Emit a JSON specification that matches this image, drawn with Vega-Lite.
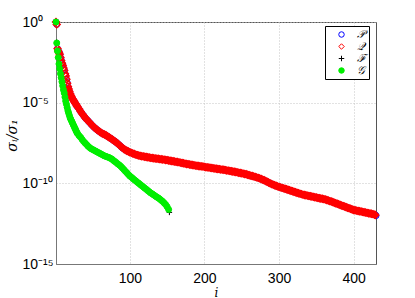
{
"$schema":"https://vega.github.io/schema/vega-lite/v6.json",
"width":320,"height":242,
"autosize":{"type":"none"},
"padding":{"left":56,"top":22,"right":39,"bottom":34},
"background":"white",
"datasets":{
"pq":[
{"i":1,"P":1,"Q":1},{"i":2,"P":0.708,"Q":0.708},{"i":3,"P":0.0224,"Q":0.0224},{"i":4,"P":0.0158,"Q":0.0158},{"i":5,"P":0.0141,"Q":0.0126},{"i":6,"P":0.0112,"Q":0.01},{"i":7,"P":0.00631,"Q":0.00631},{"i":8,"P":0.00447,"Q":0.00398},{"i":9,"P":0.00282,"Q":0.00282},{"i":10,"P":0.00224,"Q":0.002},
{"i":11,"P":0.00141,"Q":0.00141},{"i":12,"P":0.00112,"Q":0.001},{"i":13,"P":6.31e-4,"Q":6.31e-4},{"i":14,"P":5.01e-4,"Q":4.47e-4},{"i":15,"P":2.82e-4,"Q":2.82e-4},{"i":16,"P":1.78e-4,"Q":1.58e-4},{"i":17,"P":1e-4,"Q":1e-4},{"i":18,"P":7.08e-5,"Q":7.08e-5},{"i":19,"P":5.01e-5,"Q":5.01e-5},{"i":20,"P":3.55e-5,"Q":3.55e-5},
{"i":21,"P":2.82e-5,"Q":2.82e-5},{"i":22,"P":2.24e-5,"Q":2.24e-5},{"i":23,"P":1.78e-5,"Q":1.78e-5},{"i":24,"P":1.51e-5,"Q":1.51e-5},{"i":25,"P":1.26e-5,"Q":1.26e-5},{"i":26,"P":1.07e-5,"Q":1.07e-5},{"i":27,"P":8.91e-6,"Q":8.91e-6},{"i":28,"P":7.59e-6,"Q":7.59e-6},{"i":29,"P":6.31e-6,"Q":6.31e-6},{"i":30,"P":5.37e-6,"Q":5.37e-6},
{"i":32,"P":3.98e-6,"Q":3.98e-6},{"i":34,"P":2.82e-6,"Q":2.82e-6},{"i":36,"P":2.09e-6,"Q":2.09e-6},{"i":38,"P":1.58e-6,"Q":1.58e-6},{"i":40,"P":1.17e-6,"Q":1.17e-6},{"i":42,"P":9.33e-7,"Q":9.33e-7},{"i":44,"P":7.41e-7,"Q":7.41e-7},{"i":46,"P":5.89e-7,"Q":5.89e-7},{"i":48,"P":4.68e-7,"Q":4.68e-7},{"i":50,"P":3.72e-7,"Q":3.72e-7},
{"i":52,"P":3.02e-7,"Q":3.02e-7},{"i":54,"P":2.51e-7,"Q":2.51e-7},{"i":56,"P":2.09e-7,"Q":2.09e-7},{"i":58,"P":1.78e-7,"Q":1.78e-7},{"i":60,"P":1.51e-7,"Q":1.51e-7},{"i":62,"P":1.32e-7,"Q":1.32e-7},{"i":64,"P":1.17e-7,"Q":1.17e-7},{"i":66,"P":1.07e-7,"Q":1.07e-7},{"i":68,"P":9.55e-8,"Q":9.55e-8},{"i":70,"P":8.32e-8,"Q":8.32e-8},
{"i":72,"P":7.24e-8,"Q":7.24e-8},{"i":74,"P":6.31e-8,"Q":6.31e-8},{"i":76,"P":5.37e-8,"Q":5.37e-8},{"i":78,"P":4.68e-8,"Q":4.68e-8},{"i":80,"P":3.98e-8,"Q":3.98e-8},{"i":82,"P":3.39e-8,"Q":3.39e-8},{"i":84,"P":2.82e-8,"Q":2.82e-8},{"i":86,"P":2.34e-8,"Q":2.34e-8},{"i":88,"P":1.91e-8,"Q":1.91e-8},{"i":90,"P":1.58e-8,"Q":1.58e-8},
{"i":92,"P":1.35e-8,"Q":1.35e-8},{"i":94,"P":1.17e-8,"Q":1.17e-8},{"i":96,"P":1.05e-8,"Q":1.05e-8},{"i":98,"P":9.33e-9,"Q":9.33e-9},{"i":100,"P":8.51e-9,"Q":8.51e-9},{"i":102,"P":7.76e-9,"Q":7.76e-9},{"i":104,"P":7.08e-9,"Q":7.08e-9},{"i":106,"P":6.61e-9,"Q":6.61e-9},{"i":108,"P":6.03e-9,"Q":6.03e-9},{"i":110,"P":5.62e-9,"Q":5.62e-9},
{"i":112,"P":5.37e-9,"Q":5.37e-9},{"i":114,"P":5.01e-9,"Q":5.01e-9},{"i":116,"P":4.79e-9,"Q":4.79e-9},{"i":118,"P":4.68e-9,"Q":4.68e-9},{"i":120,"P":4.47e-9,"Q":4.47e-9},{"i":122,"P":4.27e-9,"Q":4.27e-9},{"i":124,"P":4.17e-9,"Q":4.17e-9},{"i":126,"P":3.98e-9,"Q":3.98e-9},{"i":128,"P":3.8e-9,"Q":3.8e-9},{"i":130,"P":3.72e-9,"Q":3.72e-9},
{"i":132,"P":3.55e-9,"Q":3.55e-9},{"i":134,"P":3.47e-9,"Q":3.47e-9},{"i":136,"P":3.39e-9,"Q":3.39e-9},{"i":138,"P":3.31e-9,"Q":3.31e-9},{"i":140,"P":3.16e-9,"Q":3.16e-9},{"i":142,"P":3.09e-9,"Q":3.09e-9},{"i":144,"P":3.02e-9,"Q":3.02e-9},{"i":146,"P":2.95e-9,"Q":2.95e-9},{"i":148,"P":2.82e-9,"Q":2.82e-9},{"i":150,"P":2.75e-9,"Q":2.75e-9},
{"i":152,"P":2.63e-9,"Q":2.63e-9},{"i":154,"P":2.51e-9,"Q":2.51e-9},{"i":156,"P":2.4e-9,"Q":2.4e-9},{"i":158,"P":2.34e-9,"Q":2.34e-9},{"i":160,"P":2.24e-9,"Q":2.24e-9},{"i":162,"P":2.14e-9,"Q":2.14e-9},{"i":164,"P":2.09e-9,"Q":2.09e-9},{"i":166,"P":2e-9,"Q":2e-9},{"i":168,"P":1.91e-9,"Q":1.91e-9},{"i":170,"P":1.82e-9,"Q":1.82e-9},
{"i":172,"P":1.74e-9,"Q":1.74e-9},{"i":174,"P":1.66e-9,"Q":1.66e-9},{"i":176,"P":1.58e-9,"Q":1.58e-9},{"i":178,"P":1.55e-9,"Q":1.55e-9},{"i":180,"P":1.48e-9,"Q":1.48e-9},{"i":182,"P":1.41e-9,"Q":1.41e-9},{"i":184,"P":1.38e-9,"Q":1.38e-9},{"i":186,"P":1.32e-9,"Q":1.32e-9},{"i":188,"P":1.26e-9,"Q":1.26e-9},{"i":190,"P":1.23e-9,"Q":1.23e-9},
{"i":192,"P":1.2e-9,"Q":1.2e-9},{"i":194,"P":1.15e-9,"Q":1.15e-9},{"i":196,"P":1.12e-9,"Q":1.12e-9},{"i":198,"P":1.1e-9,"Q":1.1e-9},{"i":200,"P":1.05e-9,"Q":1.05e-9},{"i":202,"P":1e-9,"Q":1e-9},{"i":204,"P":9.77e-10,"Q":9.77e-10},{"i":206,"P":9.55e-10,"Q":9.55e-10},{"i":208,"P":9.12e-10,"Q":9.12e-10},{"i":210,"P":8.91e-10,"Q":8.91e-10},
{"i":212,"P":8.51e-10,"Q":8.51e-10},{"i":214,"P":8.32e-10,"Q":8.32e-10},{"i":216,"P":7.94e-10,"Q":7.94e-10},{"i":218,"P":7.76e-10,"Q":7.76e-10},{"i":220,"P":7.59e-10,"Q":7.59e-10},{"i":222,"P":7.24e-10,"Q":7.24e-10},{"i":224,"P":7.08e-10,"Q":7.08e-10},{"i":226,"P":6.92e-10,"Q":6.92e-10},{"i":228,"P":6.61e-10,"Q":6.61e-10},{"i":230,"P":6.31e-10,"Q":6.31e-10},
{"i":232,"P":6.17e-10,"Q":6.17e-10},{"i":234,"P":5.89e-10,"Q":5.89e-10},{"i":236,"P":5.62e-10,"Q":5.62e-10},{"i":238,"P":5.37e-10,"Q":5.37e-10},{"i":240,"P":5.25e-10,"Q":5.25e-10},{"i":242,"P":5.01e-10,"Q":5.01e-10},{"i":244,"P":4.79e-10,"Q":4.79e-10},{"i":246,"P":4.57e-10,"Q":4.57e-10},{"i":248,"P":4.37e-10,"Q":4.37e-10},{"i":250,"P":4.17e-10,"Q":4.17e-10},
{"i":252,"P":3.98e-10,"Q":3.98e-10},{"i":254,"P":3.8e-10,"Q":3.8e-10},{"i":256,"P":3.63e-10,"Q":3.63e-10},{"i":258,"P":3.39e-10,"Q":3.39e-10},{"i":260,"P":3.16e-10,"Q":3.16e-10},{"i":262,"P":3.02e-10,"Q":3.02e-10},{"i":264,"P":2.82e-10,"Q":2.82e-10},{"i":266,"P":2.69e-10,"Q":2.69e-10},{"i":268,"P":2.51e-10,"Q":2.51e-10},{"i":270,"P":2.34e-10,"Q":2.34e-10},
{"i":272,"P":2.19e-10,"Q":2.19e-10},{"i":274,"P":2.04e-10,"Q":2.04e-10},{"i":276,"P":1.86e-10,"Q":1.86e-10},{"i":278,"P":1.7e-10,"Q":1.7e-10},{"i":280,"P":1.55e-10,"Q":1.55e-10},{"i":282,"P":1.38e-10,"Q":1.38e-10},{"i":284,"P":1.26e-10,"Q":1.26e-10},{"i":286,"P":1.12e-10,"Q":1.12e-10},{"i":288,"P":1e-10,"Q":1e-10},{"i":290,"P":9.12e-11,"Q":9.12e-11},
{"i":292,"P":8.32e-11,"Q":8.32e-11},{"i":294,"P":7.59e-11,"Q":7.59e-11},{"i":296,"P":7.08e-11,"Q":7.08e-11},{"i":298,"P":6.46e-11,"Q":6.46e-11},{"i":300,"P":6.03e-11,"Q":6.03e-11},{"i":302,"P":5.62e-11,"Q":5.62e-11},{"i":304,"P":5.25e-11,"Q":5.25e-11},{"i":306,"P":4.9e-11,"Q":4.9e-11},{"i":308,"P":4.57e-11,"Q":4.57e-11},{"i":310,"P":4.27e-11,"Q":4.27e-11},
{"i":312,"P":3.98e-11,"Q":3.98e-11},{"i":314,"P":3.72e-11,"Q":3.72e-11},{"i":316,"P":3.47e-11,"Q":3.47e-11},{"i":318,"P":3.24e-11,"Q":3.24e-11},{"i":320,"P":3.02e-11,"Q":3.02e-11},{"i":322,"P":2.82e-11,"Q":2.82e-11},{"i":324,"P":2.63e-11,"Q":2.63e-11},{"i":326,"P":2.45e-11,"Q":2.45e-11},{"i":328,"P":2.29e-11,"Q":2.29e-11},{"i":330,"P":2.14e-11,"Q":2.14e-11},
{"i":332,"P":2e-11,"Q":2e-11},{"i":334,"P":1.91e-11,"Q":1.91e-11},{"i":336,"P":1.82e-11,"Q":1.82e-11},{"i":338,"P":1.74e-11,"Q":1.74e-11},{"i":340,"P":1.66e-11,"Q":1.66e-11},{"i":342,"P":1.58e-11,"Q":1.58e-11},{"i":344,"P":1.51e-11,"Q":1.51e-11},{"i":346,"P":1.45e-11,"Q":1.45e-11},{"i":348,"P":1.38e-11,"Q":1.38e-11},{"i":350,"P":1.32e-11,"Q":1.32e-11},
{"i":352,"P":1.26e-11,"Q":1.26e-11},{"i":354,"P":1.2e-11,"Q":1.2e-11},{"i":356,"P":1.15e-11,"Q":1.15e-11},{"i":358,"P":1.1e-11,"Q":1.1e-11},{"i":360,"P":1.05e-11,"Q":1.05e-11},{"i":362,"P":1e-11,"Q":1e-11},{"i":364,"P":9.33e-12,"Q":9.33e-12},{"i":366,"P":8.71e-12,"Q":8.71e-12},{"i":368,"P":7.94e-12,"Q":7.94e-12},{"i":370,"P":7.41e-12,"Q":7.41e-12},
{"i":372,"P":6.92e-12,"Q":6.92e-12},{"i":374,"P":6.31e-12,"Q":6.31e-12},{"i":376,"P":5.89e-12,"Q":5.89e-12},{"i":378,"P":5.37e-12,"Q":5.37e-12},{"i":380,"P":5.01e-12,"Q":5.01e-12},{"i":382,"P":4.57e-12,"Q":4.57e-12},{"i":384,"P":4.27e-12,"Q":4.27e-12},{"i":386,"P":3.89e-12,"Q":3.89e-12},{"i":388,"P":3.63e-12,"Q":3.63e-12},{"i":390,"P":3.31e-12,"Q":3.31e-12},
{"i":392,"P":3.09e-12,"Q":3.09e-12},{"i":394,"P":2.82e-12,"Q":2.82e-12},{"i":396,"P":2.63e-12,"Q":2.63e-12},{"i":398,"P":2.4e-12,"Q":2.4e-12},{"i":400,"P":2.24e-12,"Q":2.24e-12},{"i":402,"P":2.14e-12,"Q":2.14e-12},{"i":404,"P":2.04e-12,"Q":2.04e-12},{"i":406,"P":1.95e-12,"Q":1.95e-12},{"i":408,"P":1.86e-12,"Q":1.86e-12},{"i":410,"P":1.78e-12,"Q":1.78e-12},
{"i":412,"P":1.7e-12,"Q":1.7e-12},{"i":414,"P":1.62e-12,"Q":1.62e-12},{"i":416,"P":1.55e-12,"Q":1.55e-12},{"i":418,"P":1.48e-12,"Q":1.48e-12},{"i":420,"P":1.41e-12,"Q":1.41e-12},{"i":422,"P":1.35e-12,"Q":1.35e-12},{"i":424,"P":1.29e-12,"Q":1.29e-12},{"i":426,"P":1.23e-12,"Q":1.23e-12},{"i":428,"P":1.15e-12,"Q":1.15e-12},{"i":429,"P":1.1e-12,"Q":1.1e-12},
{"i":430,"P":1e-12}
],
"fg":[
{"i":1,"F":1,"G":1},{"i":2,"F":0.0562,"G":0.0501},{"i":3,"F":0.0158,"G":0.0158},{"i":4,"F":0.00631,"G":0.00631},{"i":5,"F":0.00251,"G":0.00251},{"i":6,"F":0.00126,"G":0.00126},{"i":7,"F":6.31e-4,"G":6.31e-4},{"i":8,"F":3.55e-4,"G":3.55e-4},{"i":9,"F":2e-4,"G":2e-4},{"i":10,"F":1.12e-4,"G":1.12e-4},
{"i":11,"F":6.31e-5,"G":6.31e-5},{"i":12,"F":3.98e-5,"G":3.98e-5},{"i":13,"F":2.24e-5,"G":2.24e-5},{"i":14,"F":1.26e-5,"G":1.26e-5},{"i":15,"F":7.94e-6,"G":7.94e-6},{"i":16,"F":5.01e-6,"G":5.01e-6},{"i":17,"F":3.16e-6,"G":3.16e-6},{"i":18,"F":2.24e-6,"G":2.24e-6},{"i":19,"F":1.58e-6,"G":1.58e-6},{"i":20,"F":1.12e-6,"G":1.12e-6},
{"i":21,"F":8.91e-7,"G":8.91e-7},{"i":22,"F":7.08e-7,"G":7.08e-7},{"i":23,"F":5.62e-7,"G":5.62e-7},{"i":24,"F":4.47e-7,"G":4.47e-7},{"i":25,"F":3.55e-7,"G":3.55e-7},{"i":26,"F":2.82e-7,"G":2.82e-7},{"i":27,"F":2.24e-7,"G":2.24e-7},{"i":28,"F":1.78e-7,"G":1.78e-7},{"i":29,"F":1.41e-7,"G":1.41e-7},{"i":30,"F":1.2e-7,"G":1.2e-7},
{"i":32,"F":8.91e-8,"G":8.91e-8},{"i":34,"F":7.08e-8,"G":7.08e-8},{"i":36,"F":5.25e-8,"G":5.25e-8},{"i":38,"F":3.98e-8,"G":3.98e-8},{"i":40,"F":3.16e-8,"G":3.16e-8},{"i":42,"F":2.51e-8,"G":2.51e-8},{"i":44,"F":2e-8,"G":2e-8},{"i":46,"F":1.66e-8,"G":1.66e-8},{"i":48,"F":1.41e-8,"G":1.41e-8},{"i":50,"F":1.26e-8,"G":1.26e-8},
{"i":52,"F":1.12e-8,"G":1.12e-8},{"i":54,"F":1e-8,"G":1e-8},{"i":56,"F":8.91e-9,"G":8.91e-9},{"i":58,"F":7.94e-9,"G":7.94e-9},{"i":60,"F":7.08e-9,"G":7.08e-9},{"i":62,"F":6.31e-9,"G":6.31e-9},{"i":64,"F":5.62e-9,"G":5.62e-9},{"i":66,"F":5.01e-9,"G":5.01e-9},{"i":68,"F":4.68e-9,"G":4.68e-9},{"i":70,"F":4.27e-9,"G":4.27e-9},
{"i":72,"F":3.98e-9,"G":3.98e-9},{"i":74,"F":3.55e-9,"G":3.55e-9},{"i":76,"F":3.16e-9,"G":3.16e-9},{"i":78,"F":2.63e-9,"G":2.63e-9},{"i":80,"F":2.24e-9,"G":2.24e-9},{"i":82,"F":1.91e-9,"G":1.91e-9},{"i":84,"F":1.58e-9,"G":1.58e-9},{"i":86,"F":1.35e-9,"G":1.35e-9},{"i":88,"F":1.12e-9,"G":1.12e-9},{"i":90,"F":8.91e-10,"G":8.91e-10},
{"i":92,"F":7.08e-10,"G":7.08e-10},{"i":94,"F":5.62e-10,"G":5.62e-10},{"i":96,"F":4.47e-10,"G":4.47e-10},{"i":98,"F":3.55e-10,"G":3.55e-10},{"i":100,"F":2.82e-10,"G":2.82e-10},{"i":102,"F":2.4e-10,"G":2.4e-10},{"i":104,"F":2e-10,"G":2e-10},{"i":106,"F":1.66e-10,"G":1.66e-10},{"i":108,"F":1.41e-10,"G":1.41e-10},{"i":110,"F":1.17e-10,"G":1.17e-10},
{"i":112,"F":1e-10,"G":1e-10},{"i":114,"F":8.32e-11,"G":8.32e-11},{"i":116,"F":7.08e-11,"G":7.08e-11},{"i":118,"F":6.03e-11,"G":6.03e-11},{"i":120,"F":5.01e-11,"G":5.01e-11},{"i":122,"F":4.27e-11,"G":4.27e-11},{"i":124,"F":3.55e-11,"G":3.55e-11},{"i":126,"F":3.02e-11,"G":3.02e-11},{"i":128,"F":2.51e-11,"G":2.51e-11},{"i":130,"F":2.24e-11,"G":2.24e-11},
{"i":132,"F":1.91e-11,"G":1.91e-11},{"i":134,"F":1.66e-11,"G":1.66e-11},{"i":136,"F":1.41e-11,"G":1.41e-11},{"i":138,"F":1.26e-11,"G":1.26e-11},{"i":140,"F":1.07e-11,"G":1.07e-11},{"i":142,"F":8.91e-12,"G":8.91e-12},{"i":144,"F":7.59e-12,"G":7.59e-12},{"i":146,"F":6.03e-12,"G":6.03e-12},{"i":148,"F":4.79e-12,"G":4.79e-12},{"i":150,"F":3.55e-12,"G":3.55e-12},
{"i":152,"F":2.4e-12,"G":2.4e-12},{"i":153,"F":1.58e-12}
]
},
"config":{
"view":{"stroke":"#555","strokeWidth":1},
"axis":{"domainColor":"#777","grid":true,"gridColor":"#c4c4c4","gridDash":[1,2],"ticks":false,"labelFont":"Liberation Sans","labelFontSize":14,"labelColor":"#000","labelOverlap":false,"labelBound":false,"labelFlush":false}
},
"encoding":{
"x":{"field":"i","type":"quantitative","scale":{"domain":[1,430],"nice":false,"zero":false},
 "axis":{"values":[100,200,300,400],"labelPadding":7,"title":"i","titleFont":"DejaVu Serif","titleFontStyle":"italic","titleFontWeight":"normal","titleFontSize":12,"titleY":28,"titleBaseline":"middle"}},
"y":{"field":"v","type":"quantitative","scale":{"type":"log","domain":[1e-15,1],"nice":false},
 "axis":{"values":[1e-15,1e-10,1e-5,1],"labelAlign":"left","labelBaseline":"middle","labelPadding":34,
 "labelExpr":"datum.value > 0.5 ? '10⁰' : datum.value > 1e-6 ? '10⁻⁵' : datum.value > 1e-11 ? '10⁻¹⁰' : '10⁻¹⁵'",
 "title":"σᵢ/σ₁","titleFont":"DejaVu Serif","titleFontStyle":"italic","titleFontWeight":"normal","titleFontSize":14,"titleAngle":-90,"titleX":-44,"titleY":113,"titleAlign":"center","titleBaseline":"middle"}},
"stroke":{"field":"s","type":"nominal","scale":{"domain":["P","Q","F","G"],"range":["#0000ff","#ff0000","#000000","#00ee00"]},
 "legend":{"orient":"none","legendX":269,"legendY":4,"title":null,"strokeColor":"#000","fillColor":"#fff","padding":3,"symbolOffset":8,"labelOffset":10,"rowPadding":0,"labelFont":"DejaVu Serif","labelFontSize":11,"labelFontStyle":"italic","symbolSize":30,"symbolStrokeWidth":1,"cornerRadius":0,
 "labelExpr":"datum.label == 'P' ? '𝒫' : datum.label == 'Q' ? '𝒬' : datum.label == 'F' ? 'ℱ' : '𝒢'"}},
"fill":{"field":"s","type":"nominal","scale":{"domain":["P","Q","F","G"],"range":["transparent","transparent","transparent","#00ee00"]}},
"shape":{"field":"s","type":"nominal","scale":{"domain":["P","Q","F","G"],"range":["circle","diamond","M-1,0H1M0,-1V1","circle"]}}
},
"layer":[
{"data":{"name":"pq"},"transform":[{"fold":["P"],"as":["s","v"]},{"filter":"isValid(datum.v)"}],"mark":{"type":"point","size":36,"strokeWidth":1,"opacity":1}},
{"data":{"name":"pq"},"transform":[{"fold":["Q"],"as":["s","v"]},{"filter":"isValid(datum.v)"}],"mark":{"type":"point","size":50,"strokeWidth":1.3,"opacity":1},
 "encoding":{"fill":{"condition":{"test":"datum.i >= 18","value":"#ff0000"},"field":"s","type":"nominal"}}},
{"data":{"name":"fg"},"transform":[{"fold":["F"],"as":["s","v"]},{"filter":"isValid(datum.v)"}],"mark":{"type":"point","size":30,"strokeWidth":1,"opacity":1}},
{"data":{"name":"fg"},"transform":[{"fold":["G"],"as":["s","v"]},{"filter":"isValid(datum.v)"}],"mark":{"type":"point","size":36,"strokeWidth":1,"opacity":1}}
]
}
